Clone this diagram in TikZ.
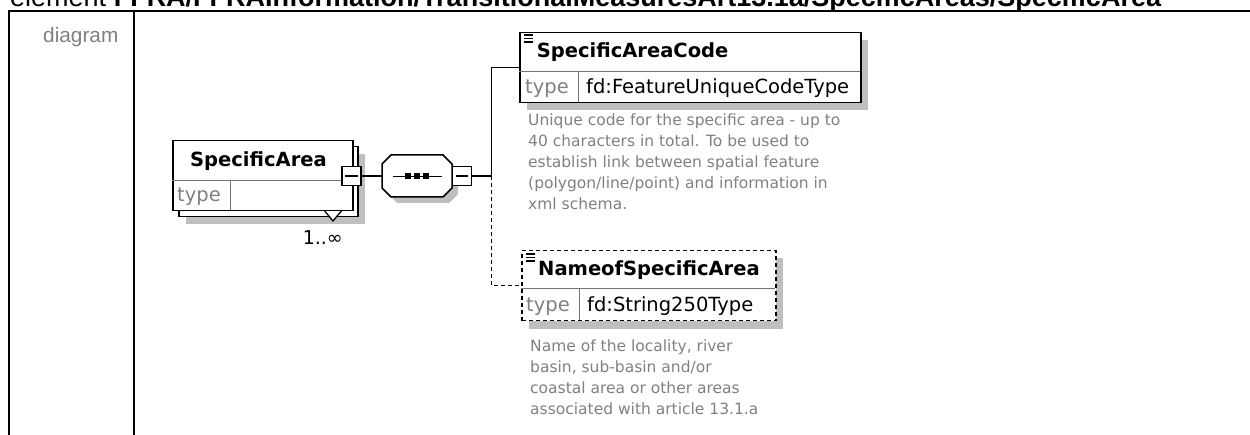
\documentclass[tikz,border=0pt]{standalone}
\usepackage{fontspec}
\newfontfamily\headfont{Liberation Sans}
\newfontfamily\xsdfont{DejaVu Sans}
\usetikzlibrary{positioning}

\begin{document}
\begin{tikzpicture}[x=1pt, y=-1pt]
            \tikzstyle{elem} = [rectangle, draw, fill=white, line width=1.5pt,
                anchor=north west, inner sep=0, minimum height=70pt]
            \tikzstyle{shade} = [fill=black!25, draw=none]
            \tikzstyle{divider} = [draw=black!55, line width=1pt]
            \tikzstyle{title} = [anchor=base west, inner sep=0,
                font=\xsdfont\bfseries\fontsize{19.5}{22}\selectfont]
            \tikzstyle{typelabel} = [anchor=base west, inner sep=0, text=black!50,
                font=\xsdfont\fontsize{19.5}{22}\selectfont]
            \tikzstyle{typevalue} = [anchor=base west, inner sep=0,
                font=\xsdfont\fontsize{19.5}{22}\selectfont]
            \tikzstyle{note} = [anchor=north west, inner sep=0, align=left, text=black!50,
                font=\xsdfont\fontsize{15.5}{20.8}\selectfont]
            \tikzstyle{pm} = [rectangle, draw, fill=white, line width=1.4pt,
                minimum size=19pt, inner sep=0]
            \tikzstyle{line} = [draw, line width=1.5pt]
            \tikzstyle{optional} = [dash pattern=on 4pt off 3pt]

            \useasboundingbox (0,0) rectangle (1250,435);
            \begin{scope}
                \clip (0,0) rectangle (1250,435);
                \node [anchor=base west, inner sep=0, font=\headfont\fontsize{27}{30}\selectfont] (heading) at (10,7)
                    {element \textbf{FFRA/FFRAInformation/TransitionalMeasuresArt13.1a/SpecificAreas/SpecificArea}};
            \end{scope}
            \draw [line width=2pt] (8,11) -- (1250,11);
            \draw [line width=2pt] (9,11) -- (9,435);
            \draw [line width=2pt] (134,11) -- (134,435);
            \node [anchor=north west, inner sep=0, text=black!50,
                font=\headfont\fontsize{20.8}{24}\selectfont] (rowlabel) at (43,27) {diagram};

            \fill [shade] (186,154) rectangle (365,224);
            \node [elem, minimum width=179pt] (areaback) at (178,146) {};
            \draw [fill=white, line width=1.3pt] (323,209) -- (333,221) -- (343,209);
            \node [elem, minimum width=180pt] (area) at (172,140) {};
            \draw [divider] (172,181) -- (352,181);
            \draw [divider] (230.5,181) -- (230.5,210);
            \node [title] (areaname) at (190,167) {SpecificArea};
            \node [typelabel] (areatype) at (177,202) {type};
            \node [pm] (areapm) at (351.5,176) {};
            \draw [line width=1.4pt] ([xshift=4pt]areapm.west) -- ([xshift=-4pt]areapm.east);
            \node [anchor=base east, inner sep=0, font=\xsdfont\fontsize{19}{20}\selectfont] (areamult) at (343,245) {1..∞};

            \fill [shade] (397,161) -- (449,161) -- (458,170) -- (458,194) -- (449,203) -- (397,203) -- (388,194) -- (388,170) -- cycle;
            \node [minimum width=70pt, minimum height=42pt, inner sep=0] (seq) at (417,176) {};
            \draw [fill=white, line width=1.5pt] (391,155) -- (443,155) -- (452,164) -- (452,188)
                -- (443,197) -- (391,197) -- (382,188) -- (382,164) -- cycle;
            \draw [line width=1.5pt] (393,176.5) -- (442,176.5);
            \foreach \x in {408,417,426}
                \fill (\x-3,173.5) rectangle (\x+3,179.5);
            \node [pm] (seqpm) at (462,176) {};
            \draw [line width=1.4pt] ([xshift=4pt]seqpm.west) -- ([xshift=-4pt]seqpm.east);

            \fill [shade] (527,40) rectangle (868,110);
            \node [elem, minimum width=341pt] (code) at (519,32) {};
            \draw [divider] (519,71.5) -- (860,71.5);
            \draw [divider] (578.5,71.5) -- (578.5,102);
            \foreach \y in {35,38.5,42}
                \draw [line width=1.3pt] (524,\y) -- (533,\y);
            \node [title] (codename) at (536.7,58) {SpecificAreaCode};
            \node [typelabel] (codetypelabel) at (525,94) {type};
            \node [typevalue] (codetype) at (586,94) {fd:FeatureUniqueCodeType};
            \node [note] (codenote) at (528,114) {Unique code for the specific area - up to\\
                40 characters in total. To be used to\\
                establish link between spatial feature\\
                (polygon/line/point) and information in\\
                xml schema.};

            \fill [shade] (529,258) rectangle (783,329);
            \node [elem, optional, minimum width=254pt] (name) at (521,250) {};
            \draw [divider] (521,288.5) -- (775,288.5);
            \draw [divider] (579.3,288.5) -- (579.3,320);
            \foreach \y in {254,257.5,261}
                \draw [line width=1.3pt] (526,\y) -- (535,\y);
            \node [title] (namename) at (538,275.7) {NameofSpecificArea};
            \node [typelabel] (nametypelabel) at (526,311.7) {type};
            \node [typevalue] (nametype) at (587,311.7) {fd:String250Type};
            \node [note] (namenote) at (530,340) {Name of the locality, river\\
                basin, sub-basin and/or\\
                coastal area or other areas\\
                associated with article 13.1.a};

            \coordinate (bus) at (491.5,176);
            \path [line] (areapm) -- (seq);
            \path [line] (seqpm) -- (bus);
            \path [line] (bus) |- (code);
            \path [line, optional] (bus) |- (name);
        \end{tikzpicture}
\end{document}
